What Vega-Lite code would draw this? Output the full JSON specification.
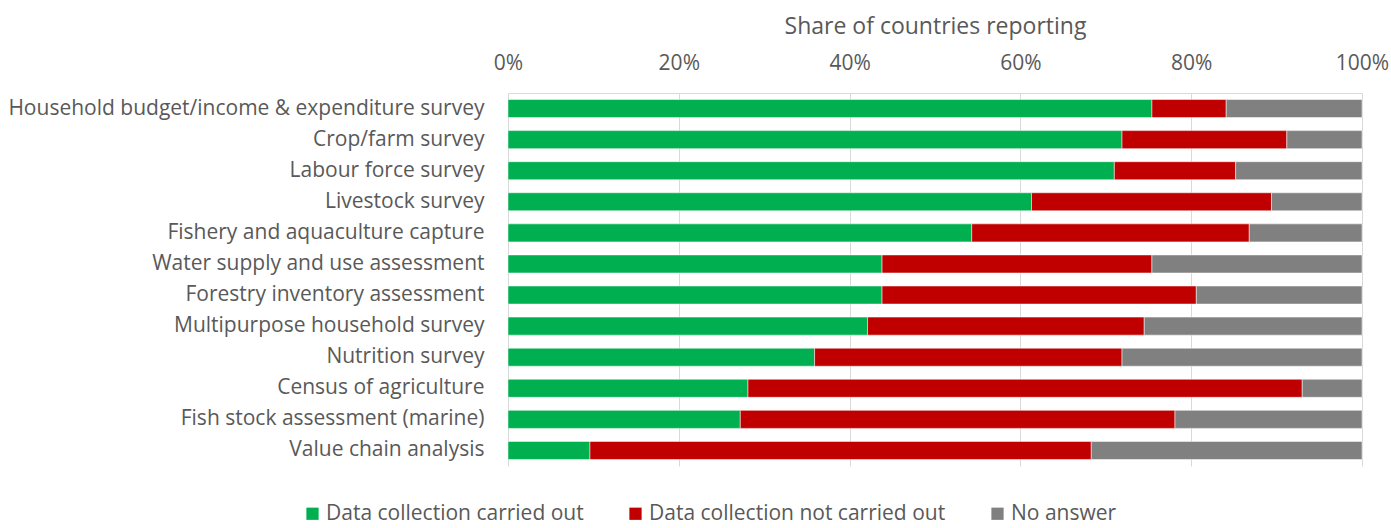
{
  "$schema": "https://vega.github.io/schema/vega-lite/v6.json",
  "width": 854,
  "height": 373,
  "autosize": {"type": "none"},
  "padding": {"left": 508, "top": 93, "right": 29, "bottom": 62},
  "background": "white",
  "config": {
    "view": {"stroke": null},
    "font": "Open Sans"
  },
  "data": {
    "values": [
      {"survey": "Household budget/income & expenditure survey", "status": "Data collection carried out", "k": 1, "share": 75.4},
      {"survey": "Household budget/income & expenditure survey", "status": "Data collection not carried out", "k": 2, "share": 8.7},
      {"survey": "Household budget/income & expenditure survey", "status": "No answer", "k": 3, "share": 15.9},
      {"survey": "Crop/farm survey", "status": "Data collection carried out", "k": 1, "share": 71.9},
      {"survey": "Crop/farm survey", "status": "Data collection not carried out", "k": 2, "share": 19.3},
      {"survey": "Crop/farm survey", "status": "No answer", "k": 3, "share": 8.8},
      {"survey": "Labour force survey", "status": "Data collection carried out", "k": 1, "share": 71.0},
      {"survey": "Labour force survey", "status": "Data collection not carried out", "k": 2, "share": 14.2},
      {"survey": "Labour force survey", "status": "No answer", "k": 3, "share": 14.8},
      {"survey": "Livestock survey", "status": "Data collection carried out", "k": 1, "share": 61.3},
      {"survey": "Livestock survey", "status": "Data collection not carried out", "k": 2, "share": 28.1},
      {"survey": "Livestock survey", "status": "No answer", "k": 3, "share": 10.6},
      {"survey": "Fishery and aquaculture capture", "status": "Data collection carried out", "k": 1, "share": 54.3},
      {"survey": "Fishery and aquaculture capture", "status": "Data collection not carried out", "k": 2, "share": 32.5},
      {"survey": "Fishery and aquaculture capture", "status": "No answer", "k": 3, "share": 13.2},
      {"survey": "Water supply and use assessment ", "status": "Data collection carried out", "k": 1, "share": 43.8},
      {"survey": "Water supply and use assessment ", "status": "Data collection not carried out", "k": 2, "share": 31.6},
      {"survey": "Water supply and use assessment ", "status": "No answer", "k": 3, "share": 24.6},
      {"survey": "Forestry inventory assessment", "status": "Data collection carried out", "k": 1, "share": 43.8},
      {"survey": "Forestry inventory assessment", "status": "Data collection not carried out", "k": 2, "share": 36.8},
      {"survey": "Forestry inventory assessment", "status": "No answer", "k": 3, "share": 19.4},
      {"survey": "Multipurpose household survey", "status": "Data collection carried out", "k": 1, "share": 42.1},
      {"survey": "Multipurpose household survey", "status": "Data collection not carried out", "k": 2, "share": 32.4},
      {"survey": "Multipurpose household survey", "status": "No answer", "k": 3, "share": 25.5},
      {"survey": "Nutrition survey", "status": "Data collection carried out", "k": 1, "share": 35.9},
      {"survey": "Nutrition survey", "status": "Data collection not carried out", "k": 2, "share": 36.0},
      {"survey": "Nutrition survey", "status": "No answer", "k": 3, "share": 28.1},
      {"survey": "Census of agriculture", "status": "Data collection carried out", "k": 1, "share": 28.1},
      {"survey": "Census of agriculture", "status": "Data collection not carried out", "k": 2, "share": 64.9},
      {"survey": "Census of agriculture", "status": "No answer", "k": 3, "share": 7.0},
      {"survey": "Fish stock assessment (marine)", "status": "Data collection carried out", "k": 1, "share": 27.2},
      {"survey": "Fish stock assessment (marine)", "status": "Data collection not carried out", "k": 2, "share": 50.9},
      {"survey": "Fish stock assessment (marine)", "status": "No answer", "k": 3, "share": 21.9},
      {"survey": "Value chain analysis", "status": "Data collection carried out", "k": 1, "share": 9.6},
      {"survey": "Value chain analysis", "status": "Data collection not carried out", "k": 2, "share": 58.7},
      {"survey": "Value chain analysis", "status": "No answer", "k": 3, "share": 31.7}
    ]
  },
  "mark": {"type": "bar", "stroke": "white", "strokeWidth": 0.5},
  "encoding": {
    "y": {
      "field": "survey",
      "type": "nominal",
      "sort": null,
      "scale": {"paddingInner": 0.42, "paddingOuter": 0.21},
      "axis": {
        "title": null,
        "ticks": false,
        "domain": false,
        "labelPadding": 24,
        "labelFontSize": 21,
        "labelColor": "#595959",
        "labelLimit": 600
      }
    },
    "x": {
      "field": "share",
      "type": "quantitative",
      "stack": "zero",
      "scale": {"domain": [0, 100], "nice": false},
      "axis": {
        "orient": "top",
        "title": "Share of countries reporting",
        "titleFontSize": 23,
        "titleFontWeight": "normal",
        "titleColor": "#595959",
        "titlePadding": 14,
        "values": [0, 20, 40, 60, 80, 100],
        "labelExpr": "datum.value + '%'",
        "labelFontSize": 21,
        "labelColor": "#595959",
        "labelPadding": 20,
        "labelFlush": false,
        "ticks": false,
        "domain": true,
        "domainColor": "#d9d9d9",
        "grid": true,
        "gridColor": "#d9d9d9",
        "gridWidth": 1
      }
    },
    "color": {
      "field": "status",
      "type": "nominal",
      "scale": {
        "domain": ["Data collection carried out", "Data collection not carried out", "No answer"],
        "range": ["#00B050", "#C00000", "#808080"]
      },
      "legend": {
        "title": null,
        "orient": "none",
        "direction": "horizontal",
        "legendX": -206,
        "legendY": 410,
        "symbolType": "square",
        "symbolSize": 150,
        "symbolStrokeWidth": 0,
        "labelFontSize": 21,
        "labelColor": "#595959",
        "labelOffset": 3,
        "columnPadding": 41,
        "labelLimit": 400
      }
    },
    "order": {"field": "k", "type": "quantitative"}
  }
}
